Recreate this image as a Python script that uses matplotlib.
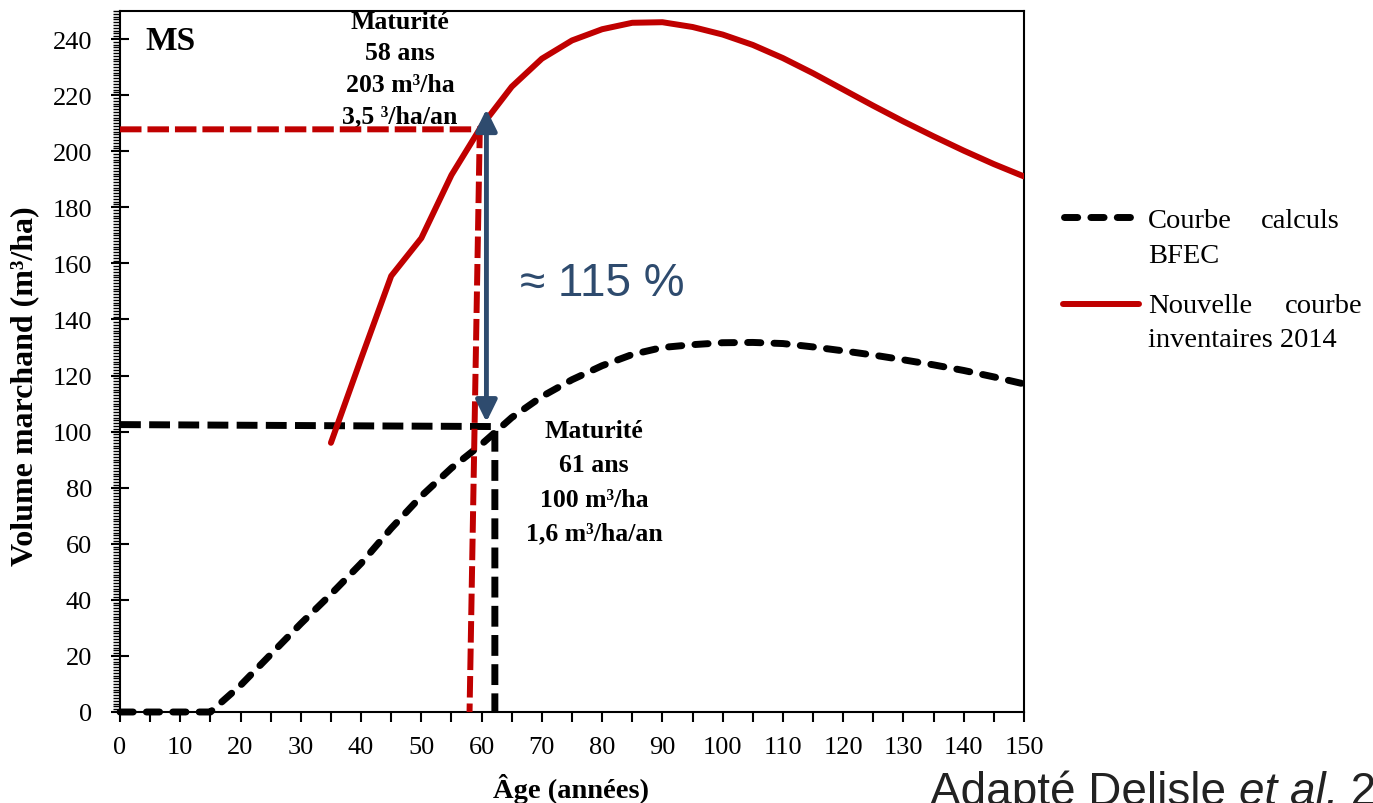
import matplotlib
matplotlib.use("Agg")
import matplotlib.pyplot as plt
from matplotlib.lines import Line2D
from matplotlib.patches import FancyArrowPatch
from matplotlib.ticker import MultipleLocator

W, H, DPI = 1373, 804, 100

# ---------------- data ----------------
age_bfec = [0, 5, 10, 15, 20, 25, 30, 35, 40, 45, 50, 55, 60, 65, 70, 75, 80,
            85, 90, 95, 100, 105, 110, 115, 120, 125, 130, 135, 140, 145, 150]
vol_bfec = [0, 0, 0, 0, 9.5, 20.5, 31.5, 42, 53, 65.5, 77, 87, 95.5, 105,
            112.5, 118.5, 123.5, 127.5, 130, 131, 131.7, 131.8, 131.4, 130.2,
            128.8, 127.3, 125.6, 123.8, 121.8, 119.5, 117]

age_new = [35, 40, 45, 50, 55, 60, 65, 70, 75, 80, 85, 90, 95, 100, 105, 110,
           115, 120, 125, 130, 135, 140, 145, 150]
vol_new = [96, 126, 155.5, 169, 191.5, 209, 223, 233, 239.5, 243.5, 245.8, 246,
           244.3, 241.6, 237.9, 233.2, 227.8, 222, 216.2, 210.6, 205.3, 200.2,
           195.4, 191]

guide_bfec_x = [0, 62.2, 62.2]
guide_bfec_y = [102.5, 101.8, 0]
guide_new_x = [0, 59.7, 58.0]
guide_new_y = [207.8, 207.8, 0]

arrow_x = 60.8
arrow_y = [215, 103.4]

gain_label = "≈ 115 %"
mat_new_lines = ["Maturité", "58 ans", "203 m³/ha", "3,5 ³/ha/an"]
mat_bfec_lines = ["Maturité", "61 ans", "100 m³/ha", "1,6 m³/ha/an"]
legend_bfec = ("Courbe", "calculs", "BFEC")
legend_new = ("Nouvelle", "courbe", "inventaires 2014")
panel_label = "MS"
x_label = "Âge (années)"
y_label = "Volume marchand (m³/ha)"
source_parts = [("Adapté Delisle ", "normal"), ("et al.", "italic"), (" 2016", "normal")]

x_ticks = list(range(0, 151, 10))
y_ticks = list(range(0, 241, 20))

# ---------------- style ----------------
RED = "#C00000"
BLUE = "#2E4B6E"
SERIF = ["Liberation Serif", "DejaVu Serif"]
SANS = ["Liberation Sans", "DejaVu Sans"]
plt.rcParams["font.family"] = SERIF

fig = plt.figure(figsize=(W / DPI, H / DPI), dpi=DPI)


def fx(p):
    return p / W


def fy(p):
    return 1 - p / H


ax = fig.add_axes([fx(120), fy(713), 904 / W, 701 / H])
ax.set_xlim(0, 150)
ax.set_ylim(0, 250)


def dx(p):
    return (p - 120) / 904 * 150


def dy(p):
    return (713 - p) / 701 * 250


# guide lines
ax.plot(guide_bfec_x, guide_bfec_y, color="black", lw=5, dashes=(3.0, 1.2),
        solid_joinstyle="miter", clip_on=False, zorder=3)
ax.plot(guide_new_x, guide_new_y, color=RED, lw=4.3, dashes=(3.6, 1.0),
        clip_on=False, zorder=4)

# curves
ax.plot(age_bfec, vol_bfec, color="black", lw=5, dashes=(1.9, 1.9),
        dash_capstyle="round", clip_on=False, zorder=3)
ax.plot(age_new, vol_new, color=RED, lw=4.3, solid_capstyle="round",
        solid_joinstyle="round", zorder=5)

# arrow
arr = FancyArrowPatch((arrow_x, arrow_y[0]), (arrow_x, arrow_y[1]),
                      arrowstyle="<|-|>,head_length=0.65,head_width=0.32",
                      mutation_scale=20, color=BLUE, lw=3.5,
                      shrinkA=0, shrinkB=0, zorder=6)
ax.add_patch(arr)

# axes styling
for s in ax.spines.values():
    s.set_linewidth(1.5)
ax.set_xticks(x_ticks)
ax.set_yticks(y_ticks)
ax.xaxis.set_minor_locator(MultipleLocator(5))
ax.yaxis.set_minor_locator(MultipleLocator(1))
ax.tick_params(axis="x", which="both", direction="out", length=7, width=1.5,
               labelsize=19, pad=10.5)
ax.tick_params(axis="y", which="major", direction="inout", length=13,
               width=1.5, labelsize=19, pad=13.5)
ax.tick_params(axis="y", which="minor", direction="out", length=5, width=1)
ax.tick_params(top=False, right=False, which="both")

ax.set_xlabel(x_label, fontsize=20.5, fontweight="bold")
ax.xaxis.label.set_va("baseline")
ax.xaxis.set_label_coords((571 - 120) / 904, (713 - 798) / 701)
ax.set_ylabel(y_label, fontsize=23, fontweight="bold")
ax.yaxis.label.set_va("center")
ax.yaxis.set_label_coords((25 - 120) / 904, (713 - 386) / 701)

# texts inside axes
ax.text(dx(145), dy(50), panel_label, fontsize=24, fontweight="bold",
        ha="left", va="baseline", clip_on=True)
for line, yb in zip(mat_new_lines, [29, 60, 92, 123]):
    ax.text(dx(400), dy(yb), line, fontsize=18.5, fontweight="bold",
            ha="center", va="baseline", clip_on=True)
for line, yb in zip(mat_bfec_lines, [438, 472, 507, 540]):
    ax.text(dx(594), dy(yb), line, fontsize=18.5, fontweight="bold",
            ha="center", va="baseline")
ax.text(dx(520), dy(296), gain_label, fontsize=33, color=BLUE,
        family=SANS, ha="left", va="baseline")

# legend (outside, manual)
fig.add_artist(Line2D([fx(1064), fx(1130)], [fy(218), fy(218)], color="black",
                      lw=5, dashes=(1.9, 1.9), dash_capstyle="round"))
fig.add_artist(Line2D([fx(1063), fx(1139)], [fy(305), fy(305)], color=RED,
                      lw=4.3, solid_capstyle="round"))
fig.text(fx(1148), fy(228), legend_bfec[0], fontsize=20.5, va="baseline", ha="left")
fig.text(fx(1340), fy(228), legend_bfec[1], fontsize=20.5, va="baseline", ha="right")
fig.text(fx(1148), fy(263), legend_bfec[2], fontsize=20.5, va="baseline", ha="left")
fig.text(fx(1148), fy(313), legend_new[0], fontsize=20.5, va="baseline", ha="left")
fig.text(fx(1363), fy(313), legend_new[1], fontsize=20.5, va="baseline", ha="right")
fig.text(fx(1148), fy(347), legend_new[2], fontsize=20.5, va="baseline", ha="left")

# source (clipped at the right edge, as in the reference)
fig.canvas.draw()
renderer = fig.canvas.get_renderer()
xcur = 930
for txt, style in source_parts:
    t = fig.text(fx(xcur), fy(805), txt, fontsize=33, family=SANS, style=style,
                 color="#222222", ha="left", va="baseline")
    bb = t.get_window_extent(renderer=renderer)
    xcur += bb.width

fig.savefig("out.png", dpi=DPI)
